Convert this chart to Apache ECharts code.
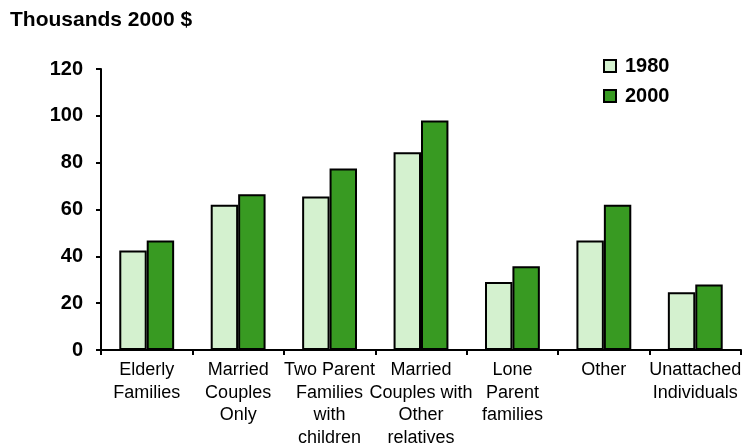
<!DOCTYPE html>
<html>
<head>
<meta charset="utf-8">
<script src="https://cdn.jsdelivr.net/npm/echarts@6/dist/echarts.min.js"></script>
<style>
  html, body { margin: 0; padding: 0; background: #fff; }
  #chart { width: 756px; height: 445px; }
</style>
</head>
<body>
<div id="chart"></div>
<script>
// Household categories (multi-line axis labels)
const categories = [
  'Elderly\nFamilies',
  'Married\nCouples\nOnly',
  'Two Parent\nFamilies\nwith\nchildren',
  'Married\nCouples with\nOther\nrelatives',
  'Lone\nParent\nfamilies',
  'Other',
  'Unattached\nIndividuals'
];

// Average income, thousands of 2000 dollars
const values1980 = [42.5, 62, 65.5, 84.5, 29, 46.8, 24.7];
const values2000 = [46.8, 66.5, 77.5, 98, 35.8, 62, 28];

const yTicks = { min: 0, max: 120, interval: 20 };

const FONT = 'Arial, "Liberation Sans", sans-serif';

const chart = echarts.init(document.getElementById('chart'), null, { renderer: 'canvas' });

chart.setOption({
  backgroundColor: '#ffffff',
  animation: false,
  title: {
    text: 'Thousands 2000 $',
    left: 10,
    top: 10,
    padding: 0,
    textStyle: { fontFamily: FONT, fontSize: 21, fontWeight: 'bold', color: '#000' }
  },
  legend: {
    orient: 'vertical',
    left: 603,
    top: 56,
    padding: 0,
    itemWidth: 12,
    itemHeight: 12,
    itemGap: 10,
    icon: 'rect',
    textStyle: {
      fontFamily: FONT, fontSize: 20, fontWeight: 'bold', color: '#000',
      lineHeight: 20, padding: [0, 0, 0, 4]
    },
    data: ['1980', '2000']
  },
  grid: {
    left: 101, right: 15, top: 69, bottom: 95,
    containLabel: false,
    outerBoundsMode: 'none'
  },
  xAxis: {
    type: 'category',
    data: categories,
    boundaryGap: true,
    axisLine: { lineStyle: { color: '#000', width: 2 } },
    axisTick: { show: true, length: 5, lineStyle: { color: '#000', width: 2 }, alignWithLabel: false },
    axisLabel: {
      interval: 0,
      margin: 9,
      fontFamily: FONT, fontSize: 18, color: '#000', lineHeight: 22.5
    },
    splitLine: { show: false }
  },
  yAxis: {
    type: 'value',
    min: yTicks.min,
    max: yTicks.max,
    interval: yTicks.interval,
    axisLine: { show: true, lineStyle: { color: '#000', width: 2 } },
    axisTick: { show: true, length: 5, lineStyle: { color: '#000', width: 2 } },
    axisLabel: { margin: 18, fontFamily: FONT, fontSize: 20, fontWeight: 'bold', color: '#000' },
    splitLine: { show: false }
  },
  series: [
    {
      name: '1980',
      type: 'bar',
      data: values1980,
      barGap: '0%',
      barCategoryGap: '40%',
      itemStyle: { color: '#d4f1cf', borderColor: '#000', borderWidth: 2 }
    },
    {
      name: '2000',
      type: 'bar',
      data: values2000,
      barGap: '0%',
      barCategoryGap: '40%',
      itemStyle: { color: '#389a22', borderColor: '#000', borderWidth: 2 }
    }
  ]
});
</script>
</body>
</html>
